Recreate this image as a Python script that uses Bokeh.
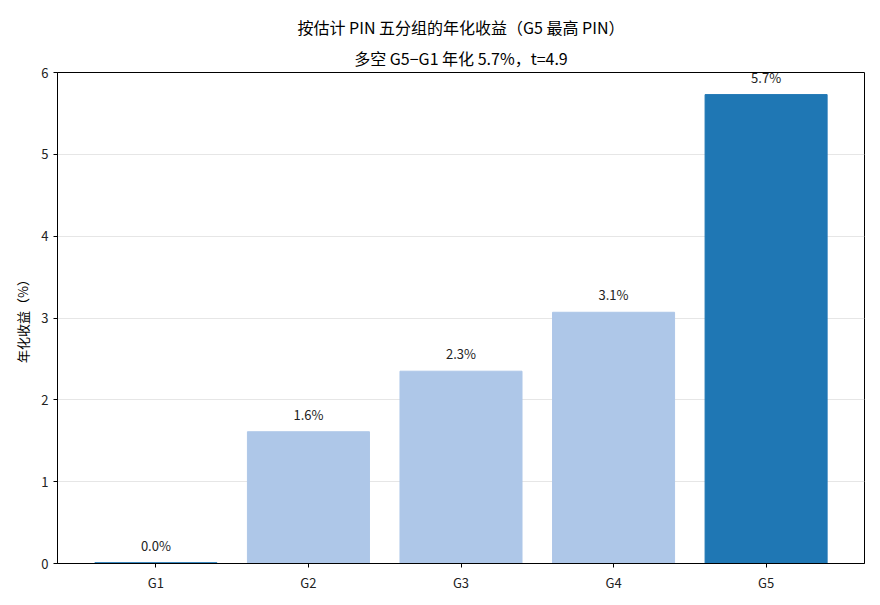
from bokeh.plotting import figure
from bokeh.models import ColumnDataSource, Range1d, FixedTicker, LabelSet, Title
from bokeh.core.properties import value
from bokeh.embed import file_html
from bokeh.resources import INLINE

groups = ["G1", "G2", "G3", "G4", "G5"]
returns = [0.01, 1.61, 2.35, 3.07, 5.73]
labels = ["0.0%", "1.6%", "2.3%", "3.1%", "5.7%"]
colors = ["#1f77b4", "#aec7e8", "#aec7e8", "#aec7e8", "#1f77b4"]
yticks = [0, 1, 2, 3, 4, 5, 6]
title_line1 = "按估计 PIN 五分组的年化收益（G5 最高 PIN）"
title_line2 = "多空 G5−G1 年化 5.7%，t=4.9"

FONT = "Noto Sans CJK SC"

xs = list(range(len(groups)))
src = ColumnDataSource(dict(x=xs, top=returns, lab=labels, color=colors))

p = figure(width=880, height=605, output_backend="svg", toolbar_location=None,
           x_range=Range1d(-0.645, 4.645), y_range=Range1d(0, 6),
           min_border_left=57, min_border_right=16, min_border_top=72, min_border_bottom=42)

def style_title(t):
    t.align = "center"
    t.text_font = FONT
    t.text_font_size = "16px"
    t.text_font_style = "normal"
    t.text_color = "#000000"

p.title.text = title_line1
style_title(p.title)
p.title.standoff = 3
t2 = Title(text=title_line2)
style_title(t2)
t2.standoff = 6
p.add_layout(t2, "above")

p.vbar(x="x", top="top", bottom=0, width=0.8, color="color", source=src)

p.add_layout(LabelSet(x="x", y="top", text="lab", source=src, text_align="center",
                      text_baseline="bottom", y_offset=8, text_font=value(FONT),
                      text_font_size=value("13px"), text_color="#222222"))

p.xaxis.ticker = FixedTicker(ticks=xs)
p.xaxis.major_label_overrides = {i: g for i, g in zip(xs, groups)}
p.yaxis.ticker = FixedTicker(ticks=yticks)
p.yaxis.axis_label = "年化收益（%）"

for ax in (p.xaxis, p.yaxis):
    ax.major_label_text_font = FONT
    ax.major_label_text_font_size = "13px"
    ax.major_label_text_color = "#222222"
    ax.major_tick_out = 4
    ax.major_tick_in = 0
    ax.minor_tick_line_color = None
    ax.axis_line_color = "black"
    ax.major_tick_line_color = "black"
    ax.axis_label_text_font = FONT
    ax.axis_label_text_font_size = "13px"
    ax.axis_label_text_font_style = "normal"
    ax.axis_label_text_color = "#000000"

p.yaxis.axis_label_standoff = 6
p.xgrid.grid_line_color = None
p.ygrid.grid_line_color = "#e6e6e6"
p.outline_line_color = "black"
p.outline_line_alpha = 1
p.outline_line_width = 1

open("out.html", "w").write(file_html(p, INLINE))
